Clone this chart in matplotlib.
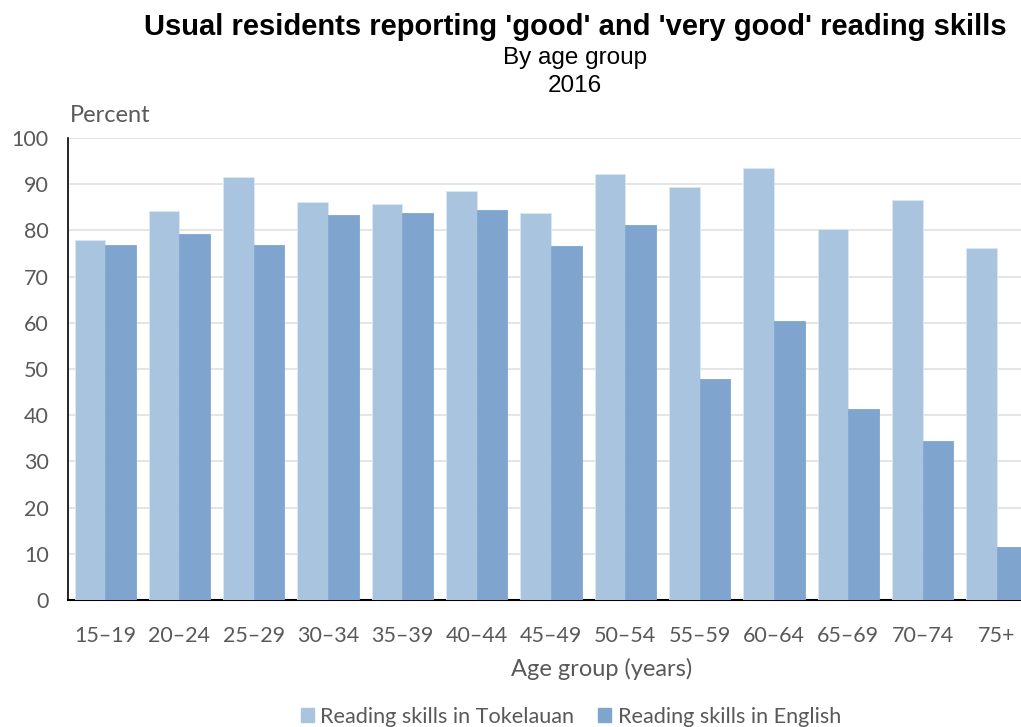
import matplotlib
matplotlib.use("Agg")
import matplotlib.pyplot as plt
import numpy as np
from matplotlib.patches import Patch

categories = ["15–19", "20–24", "25–29", "30–34", "35–39", "40–44", "45–49",
              "50–54", "55–59", "60–64", "65–69", "70–74", "75+"]
tokelauan = [78.0, 84.1, 91.6, 86.1, 85.8, 88.6, 83.8, 92.2, 89.4, 93.6, 80.2, 86.6, 76.1]
english = [76.9, 79.2, 76.9, 83.3, 83.8, 84.4, 76.6, 81.1, 47.8, 60.3, 41.3, 34.4, 11.4]
yticks = [0, 10, 20, 30, 40, 50, 60, 70, 80, 90, 100]
series_names = ["Reading skills in Tokelauan", "Reading skills in English"]

c_light = "#A9C4DE"
c_dark = "#7FA5CF"
gray = "#595959"
body_font = ["Lato", "DejaVu Sans"]
title_font = ["Liberation Sans", "DejaVu Sans"]

fig = plt.figure(figsize=(10.21, 7.27), dpi=100)
W, H = 1021, 727
ax = fig.add_axes([68 / W, (H - 600) / H, 966 / W, 462 / H])

x = np.arange(len(categories))
bw = 0.4125
ax.bar(x - bw / 2, tokelauan, width=bw, color=c_light, edgecolor="#DCE7F2", linewidth=0.6, zorder=3)
ax.bar(x + bw / 2, english, width=bw, color=c_dark, edgecolor=c_dark, linewidth=0.6, zorder=3)

ax.set_xlim(-0.5, len(categories) - 0.5)
ax.set_ylim(0, 100)
ax.set_yticks(yticks)
ax.set_yticklabels([str(v) for v in yticks], fontfamily=body_font, fontsize=15.5, color=gray)
ax.set_xticks(x)
ax.set_xticklabels(categories, fontfamily=body_font, fontsize=15.5, color=gray)
ax.tick_params(axis="both", length=0)
ax.tick_params(axis="x", pad=19)
ax.tick_params(axis="y", pad=14)
ax.yaxis.grid(True, color="#E0E0E0", linewidth=1.2, zorder=0)
ax.set_axisbelow(True)
for s in ["top", "right"]:
    ax.spines[s].set_visible(False)
ax.spines["left"].set_color("black")
ax.spines["left"].set_linewidth(1.2)
ax.spines["bottom"].set_color("black")
ax.spines["bottom"].set_linewidth(1.5)

fig.text(575 / W, 1 - 27 / H, "Usual residents reporting 'good' and 'very good' reading skills",
         ha="center", va="center", fontsize=21, fontweight="bold", family=title_font)
fig.text(575 / W, 1 - 58 / H, "By age group", ha="center", va="center", fontsize=17.5, family=title_font)
fig.text(575 / W, 1 - 86 / H, "2016", ha="center", va="center", fontsize=17.5, family=title_font)
fig.text(70 / W, 1 - 115 / H, "Percent", ha="left", va="center", fontsize=17, color=gray, family=body_font)
fig.text(602 / W, 1 - 669 / H, "Age group (years)", ha="center", va="center", fontsize=17, color=gray, family=body_font)

handles = [Patch(facecolor=c_light, edgecolor=c_light), Patch(facecolor=c_dark, edgecolor=c_dark)]
leg = fig.legend(handles, series_names, loc="center", bbox_to_anchor=(571 / W, 1 - 717 / H),
                 ncol=2, frameon=False, prop={"family": body_font, "size": 15.6},
                 handlelength=0.6, handleheight=0.6, handletextpad=0.3, columnspacing=1.1)
for t in leg.get_texts():
    t.set_color(gray)

fig.savefig("out.png", dpi=100)
